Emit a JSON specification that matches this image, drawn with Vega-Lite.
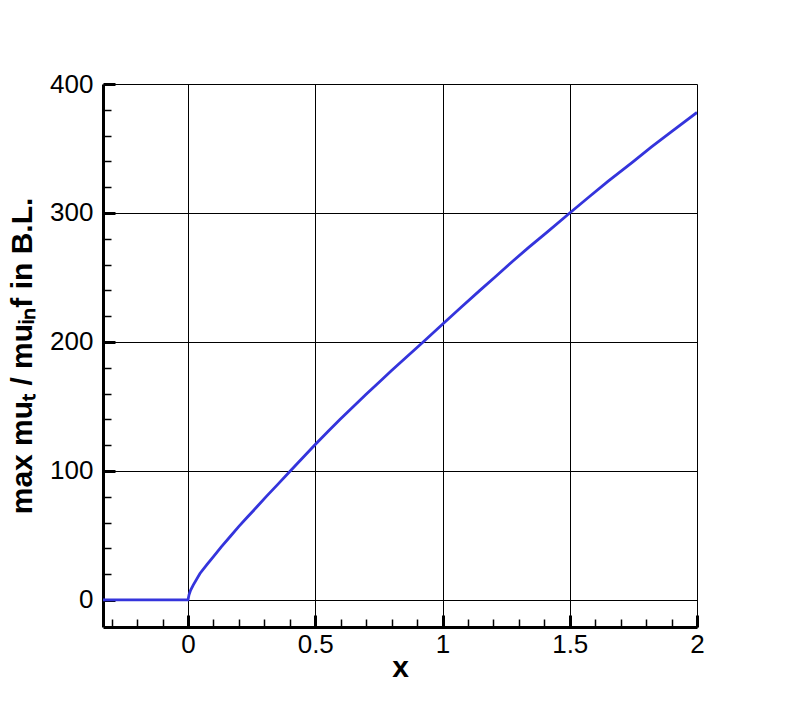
{
  "$schema": "https://vega.github.io/schema/vega-lite/v6.json",
  "width": 594,
  "height": 543,
  "autosize": {"type": "none"},
  "padding": {"left": 103, "top": 84, "right": 95, "bottom": 77},
  "background": "white",
  "data": {
    "values": [
      {"x": -0.334, "y": 0},
      {"x": 0, "y": 0},
      {"x": 0.004, "y": 4},
      {"x": 0.01, "y": 7.5},
      {"x": 0.021, "y": 11.7},
      {"x": 0.047, "y": 20.5},
      {"x": 0.075, "y": 27.5},
      {"x": 0.1, "y": 33.5},
      {"x": 0.13, "y": 41},
      {"x": 0.165, "y": 49},
      {"x": 0.2, "y": 57},
      {"x": 0.23, "y": 63.5},
      {"x": 0.27, "y": 72},
      {"x": 0.309, "y": 80.5},
      {"x": 0.35, "y": 89},
      {"x": 0.4, "y": 99.5},
      {"x": 0.45, "y": 110},
      {"x": 0.5, "y": 120.5},
      {"x": 0.55, "y": 130.6},
      {"x": 0.597, "y": 139.9},
      {"x": 0.65, "y": 150},
      {"x": 0.7, "y": 159.4},
      {"x": 0.754, "y": 169.3},
      {"x": 0.8, "y": 177.8},
      {"x": 0.85, "y": 186.8},
      {"x": 0.924, "y": 200},
      {"x": 1.0, "y": 213.8},
      {"x": 1.07, "y": 226.3},
      {"x": 1.147, "y": 240},
      {"x": 1.21, "y": 251},
      {"x": 1.278, "y": 263},
      {"x": 1.34, "y": 273.5},
      {"x": 1.41, "y": 285},
      {"x": 1.5, "y": 300},
      {"x": 1.573, "y": 312},
      {"x": 1.65, "y": 324.5},
      {"x": 1.747, "y": 339.5},
      {"x": 1.82, "y": 351},
      {"x": 1.9, "y": 363},
      {"x": 2.0, "y": 378}
    ]
  },
  "mark": {"type": "line", "color": "#3434dc", "strokeWidth": 2.8, "clip": true},
  "encoding": {
    "x": {
      "field": "x",
      "type": "quantitative",
      "title": "x",
      "scale": {"domain": [-0.334, 2], "nice": false, "zero": false},
      "axis": {
        "values": [-0.3, -0.2, -0.1, 0, 0.1, 0.2, 0.3, 0.4, 0.5, 0.6, 0.7, 0.8, 0.9, 1, 1.1, 1.2, 1.3, 1.4, 1.5, 1.6, 1.7, 1.8, 1.9, 2],
        "labelExpr": "abs(datum.value * 2 - round(datum.value * 2)) < 1e-6 ? format(datum.value, '~g') : ''",
        "tickSize": {"condition": {"test": "abs(datum.value * 2 - round(datum.value * 2)) < 1e-6", "value": -12}, "value": -8},
        "tickWidth": {"condition": {"test": "abs(datum.value * 2 - round(datum.value * 2)) < 1e-6", "value": 3}, "value": 1.5},
        "gridOpacity": {"condition": {"test": "abs(datum.value * 2 - round(datum.value * 2)) < 1e-6", "value": 1}, "value": 0},
        "labelPadding": 16,
        "titlePadding": -9
      }
    },
    "y": {
      "field": "y",
      "type": "quantitative",
      "title": "max muₜ / muᵢₙf in B.L.",
      "scale": {"domain": [-21, 400], "nice": false, "zero": false},
      "axis": {
        "values": [0, 20, 40, 60, 80, 100, 120, 140, 160, 180, 200, 220, 240, 260, 280, 300, 320, 340, 360, 380, 400],
        "labelExpr": "datum.value % 100 === 0 ? format(datum.value, 'd') : ''",
        "tickSize": {"condition": {"test": "datum.value % 100 === 0", "value": -12}, "value": -8},
        "tickWidth": {"condition": {"test": "datum.value % 100 === 0", "value": 3}, "value": 1.5},
        "gridOpacity": {"condition": {"test": "datum.value % 100 === 0", "value": 1}, "value": 0},
        "labelPadding": 22,
        "titlePadding": 12
      }
    }
  },
  "config": {
    "view": {"stroke": null},
    "font": "Liberation Sans",
    "axis": {
      "grid": true,
      "gridColor": "black",
      "gridWidth": 1,
      "domainColor": "black",
      "domainWidth": 3,
      "tickColor": "black",
      "labelColor": "black",
      "labelFont": "Liberation Sans",
      "labelFontSize": 26,
      "labelFlush": false,
      "labelOverlap": false,
      "titleColor": "black",
      "titleFont": "Liberation Sans",
      "titleFontWeight": "bold",
      "titleFontSize": 30
    }
  }
}
